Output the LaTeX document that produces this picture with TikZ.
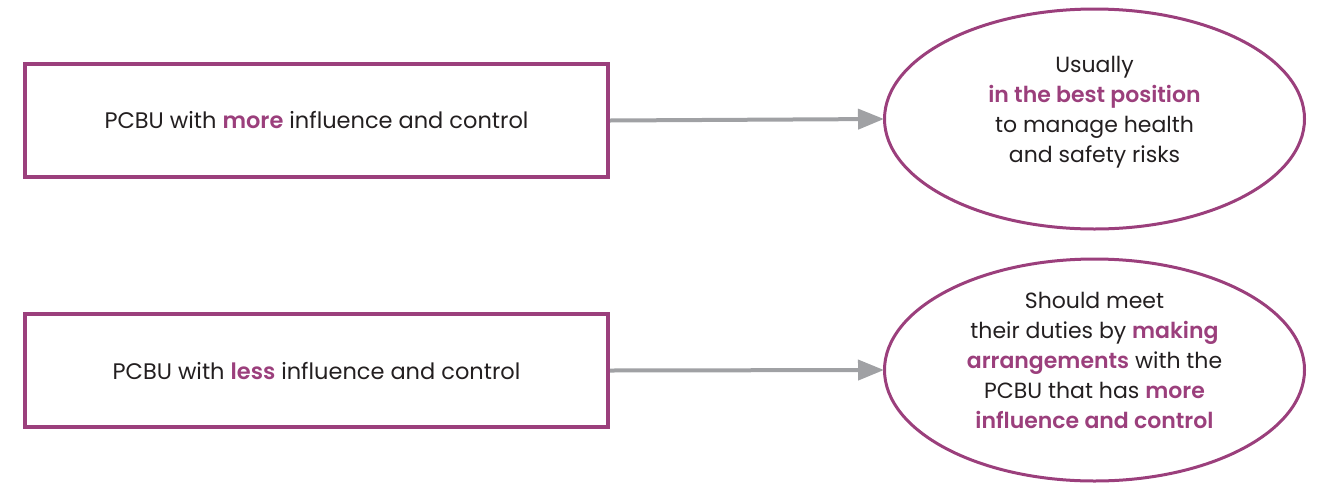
\documentclass[tikz,border=0pt]{standalone}
\usepackage{fontspec}
\setmainfont{Poppins}[BoldFont={Poppins SemiBold}]
\usetikzlibrary{shapes.geometric,arrows.meta}
\definecolor{plum}{HTML}{9B3F7C}
\definecolor{ink}{HTML}{231F20}
\definecolor{arrowgray}{HTML}{A0A1A4}
\newcommand{\hl}[1]{\textcolor{plum}{\bfseries #1}}
\tikzset{
  pbox/.style={draw=plum, line width=4pt, minimum width=583pt, minimum height=113pt, inner sep=0pt, text=ink, font=\fontsize{22.5}{30}\selectfont},
  pell/.style={draw=plum, line width=3pt, ellipse, minimum width=420pt, minimum height=220pt, inner sep=0pt},
  etext/.style={text=ink, align=center, inner sep=0pt, font=\fontsize{22}{30}\selectfont},
  flow/.style={draw=arrowgray, line width=4pt, -{Triangle[length=26pt,width=20pt]}, shorten >=-1pt}
}
\begin{document}
\begin{tikzpicture}[x=1pt,y=-1pt]
\useasboundingbox (0,0) rectangle (1322,496);
\node[pbox] (b1) at (316.5,120.5) {\raisebox{-2pt}{PCBU with \hl{more} influence and control}};
\node[pbox] (b2) at (316.5,370.5) {\raisebox{-2pt}{PCBU with \hl{less} influence and control}};
\node[pell] (e1) at (1094.5,119) {};
\node[pell, minimum height=222pt] (e2) at (1094.5,370) {};
\node[etext] (t1) at (1094.5,112) {Usually\\\hl{in the best position}\\to manage health\\and safety risks};
\node[etext] (t2) at (1094.5,360.5) {Should meet\\their duties by \hl{making}\\\hl{arrangements} with the\\PCBU that has \hl{more}\\\hl{influence and control}};
\draw[flow] (b1.east) -- (e1.west);
\draw[flow] (b2.east) -- (e2.west);
\end{tikzpicture}
\end{document}
